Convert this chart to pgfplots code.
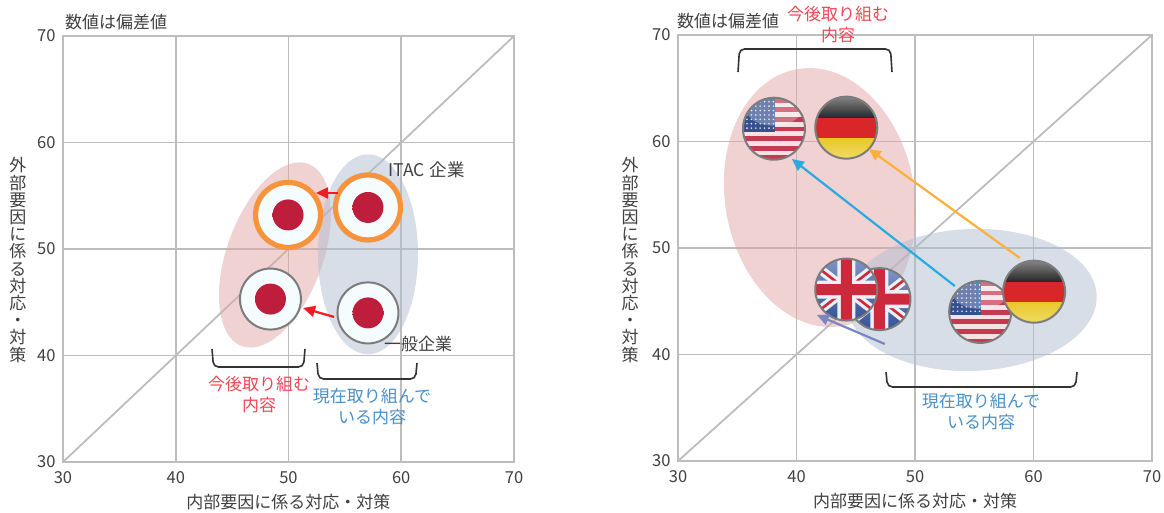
\documentclass[border=0pt]{standalone}
\usepackage{fontspec}
\usepackage{pgfplots}
\pgfplotsset{compat=1.18}
\usetikzlibrary{arrows.meta}
\setmainfont{Noto Sans CJK JP}

\definecolor{gridc}{HTML}{BDBDBD}
\definecolor{textc}{HTML}{404040}
\definecolor{regionpink}{HTML}{E1A5A5}
\definecolor{regionblue}{HTML}{AFBDD1}
\definecolor{labelred}{HTML}{EF4655}
\definecolor{labelblue}{HTML}{4A90C8}
\definecolor{ringc}{HTML}{F7933B}
\definecolor{rimc}{HTML}{7C7C7C}
\definecolor{dotc}{HTML}{BE1E3C}
\definecolor{dotedge}{HTML}{F0B0A8}
\definecolor{usred}{HTML}{C43A50}
\definecolor{usblue}{HTML}{35508F}
\definecolor{ukblue}{HTML}{3A5CA8}
\definecolor{ukred}{HTML}{CC2A3C}
\definecolor{dered}{HTML}{D92628}
\definecolor{degold}{HTML}{E8D030}
\definecolor{arrred}{HTML}{ED1C24}
\definecolor{arrblue}{HTML}{29ABE2}
\definecolor{arryellow}{HTML}{FBB03B}
\definecolor{arrpurple}{HTML}{7A86C4}

\pgfdeclareradialshading{rising}{\pgfpointorigin}{%
  color(0bp)=(dotc); color(26bp)=(dotc); color(36bp)=(dotc!85!black); color(44bp)=(dotedge); color(50bp)=(white)}

% Round badges and shaded regions, set once and placed by the plots below
\newsavebox{\jpflagbox}
\newsavebox{\jpringbox}
\newsavebox{\usflagbox}
\newsavebox{\deflagbox}
\newsavebox{\ukflagbox}
\newsavebox{\regLpink}
\newsavebox{\regLblue}
\newsavebox{\regRpink}
\newsavebox{\regRblue}
\newcommand{\discface}{\fill[white!96!cyan] (0,0) circle (30pt);
  \shade[shading=rising] (0,0) circle (15.5pt);}

\pgfplotsset{
  bubble/.style={
    scale only axis, height=426pt, clip=false, clip marker paths=true,
    xmin=30, xmax=70, ymin=30, ymax=70,
    xtick={30,40,50,60,70}, ytick={30,40,50,60,70},
    grid=major, major grid style={draw=gridc,line width=1.8pt},
    axis line style={draw=gridc,line width=1.8pt},
    major tick length=0pt,
    /pgf/number format/assume math mode=true,
    tick label style={font=\fontsize{16.5}{18}\selectfont,text=textc},
    xticklabel style={yshift=-6pt},
    yticklabel style={xshift=-4pt},
    xlabel={内部要因に係る対応・対策},
    every axis x label/.style={at={(axis description cs:0.5,0)},anchor=center,yshift=-40pt,font=\fontsize{17}{19}\selectfont,text=textc},
    ylabel={外\\部\\要\\因\\に\\係\\る\\対\\応\\・\\対\\策},
  },
  badge/.style={only marks,mark=text,text mark={\usebox{#1}},text mark as node=false,forget plot},
  dir/.style={#1,line width=2.2pt,-{Triangle[length=12pt,width=11pt]},forget plot},
  diag/.style={gridc,line width=1.8pt,forget plot},
}

\begin{document}%
\sbox{\jpflagbox}{\begin{tikzpicture}\discface
  \draw[rimc,line width=2pt] (0,0) circle (30.5pt);\end{tikzpicture}}%
\sbox{\jpringbox}{\begin{tikzpicture}\discface
  \draw[ringc,line width=5.2pt] (0,0) circle (32.5pt);\end{tikzpicture}}%
\sbox{\usflagbox}{\begin{tikzpicture}
  \begin{scope}
    \clip (0,0) circle (31pt);
    \fill[usred!15!white] (-31pt,-31pt) rectangle (31pt,31pt);
    \foreach \s in {0,...,6}{%
      \pgfmathsetmacro{\yy}{31-\s*9.6}
      \fill[usred] (-31pt,\yy pt) rectangle (31pt,\yy pt-4.8pt);}
    \fill[usblue] (-31pt,31pt) rectangle (1pt,-3pt);
    \foreach \i in {0,...,6}{\foreach \j in {0,...,6}{%
      \pgfmathsetmacro{\xx}{-27+\i*4.4}
      \pgfmathsetmacro{\yy}{27-\j*4.4}
      \fill[white!85!usblue] (\xx pt,\yy pt) circle (0.9pt);}}
    \fill[white,opacity=.28] (0,18pt) ellipse [x radius=27pt,y radius=15pt];
  \end{scope}
  \draw[rimc,line width=2pt] (0,0) circle (31pt);\end{tikzpicture}}%
\sbox{\deflagbox}{\begin{tikzpicture}
  \begin{scope}
    \clip (0,0) circle (31pt);
    \shade[top color=black!48,bottom color=black!85] (-31pt,31pt) rectangle (31pt,10pt);
    \fill[dered] (-31pt,10pt) rectangle (31pt,-11pt);
    \shade[top color=degold!90!orange,bottom color=degold!75!white] (-31pt,-11pt) rectangle (31pt,-31pt);
  \end{scope}
  \draw[rimc,line width=2pt] (0,0) circle (31pt);\end{tikzpicture}}%
\sbox{\ukflagbox}{\begin{tikzpicture}
  \begin{scope}
    \clip (0,0) circle (31pt);
    \shade[top color=ukblue!65!white,bottom color=ukblue!90!black] (-31pt,-31pt) rectangle (31pt,31pt);
    \draw[white!90!ukblue,line width=9pt] (-31pt,-24pt) -- (31pt,24pt) (-31pt,24pt) -- (31pt,-24pt);
    \draw[ukred,line width=2.6pt] (-31pt,-24pt) -- (31pt,24pt) (-31pt,24pt) -- (31pt,-24pt);
    \fill[white!90!ukblue] (-31pt,-9pt) rectangle (31pt,9pt) (-9pt,-31pt) rectangle (9pt,31pt);
    \fill[ukred] (-31pt,-5.5pt) rectangle (31pt,5.5pt) (-5.5pt,-31pt) rectangle (5.5pt,31pt);
  \end{scope}
  \draw[rimc,line width=2pt] (0,0) circle (31pt);\end{tikzpicture}}%
\sbox{\regLpink}{\begin{tikzpicture}
  \path[use as bounding box] (-110pt,-110pt) rectangle (110pt,110pt);
  \fill[regionpink,opacity=.5,rotate=70] (0,0) ellipse [x radius=97pt,y radius=48pt];\end{tikzpicture}}%
\sbox{\regLblue}{\begin{tikzpicture}
  \path[use as bounding box] (-110pt,-110pt) rectangle (110pt,110pt);
  \fill[regionblue,opacity=.5] (0,0) ellipse [x radius=50pt,y radius=100pt];\end{tikzpicture}}%
\sbox{\regRpink}{\begin{tikzpicture}
  \path[use as bounding box] (-140pt,-140pt) rectangle (140pt,140pt);
  \fill[regionpink,opacity=.5,rotate=100] (0,0) ellipse [x radius=130.4pt,y radius=94.7pt];\end{tikzpicture}}%
\sbox{\regRblue}{\begin{tikzpicture}
  \path[use as bounding box] (-140pt,-140pt) rectangle (140pt,140pt);
  \fill[regionblue,opacity=.5,rotate=2] (0,0) ellipse [x radius=125pt,y radius=71pt];\end{tikzpicture}}%
\begin{tikzpicture}
\path[use as bounding box] (0,0) rectangle (1164pt,512pt);

% Japanese firms: external against internal scores
\begin{axis}[bubble, width=451pt, at={(63pt,50pt)}, anchor=south west,
  every axis y label/.style={at={(axis description cs:-0.1,0.474)},anchor=center,align=center,font=\fontsize{17}{17.2}\selectfont,text=textc}]
  \addplot[diag] coordinates {(30,30) (70,70)};
  \addplot[badge=\regLpink] coordinates {(48.8,49.44)};
  \addplot[badge=\regLblue] coordinates {(57.05,49.5)};
  \addplot[badge=\jpringbox] coordinates {(49.96,53.2)};
  \addplot[badge=\jpringbox] coordinates {(57.05,53.9)};
  \addplot[badge=\jpflagbox] coordinates {(48.4,45.3)};
  \addplot[badge=\jpflagbox] coordinates {(57.05,44.0)};
  \addplot[dir=arrred] coordinates {(54.39,55.26) (52.44,55.26)};
  \addplot[dir=arrred] coordinates {(54.04,43.62) (51.29,44.46)};
\end{axis}

% Country comparison
\begin{axis}[bubble, width=474pt, at={(678pt,51pt)}, anchor=south west,
  every axis y label/.style={at={(axis description cs:-0.101,0.472)},anchor=center,align=center,font=\fontsize{17}{17.2}\selectfont,text=textc}]
  \addplot[diag] coordinates {(30,30) (70,70)};
  \addplot[badge=\regRpink] coordinates {(41.97,54.74)};
  \addplot[badge=\regRblue] coordinates {(54.79,45.12)};
  \addplot[badge=\usflagbox] coordinates {(38.1,61.2)};
  \addplot[badge=\deflagbox] coordinates {(44.2,61.3)};
  \addplot[badge=\ukflagbox] coordinates {(47.0,45.2)};
  \addplot[badge=\ukflagbox] coordinates {(44.2,46.1)};
  \addplot[badge=\usflagbox] coordinates {(55.5,44.0)};
  \addplot[badge=\deflagbox] coordinates {(60.05,45.9)};
  \addplot[dir=arrblue] coordinates {(53.36,46.43) (39.61,58.36)};
  \addplot[dir=arryellow] coordinates {(58.84,49.06) (46.10,59.30)};
  \addplot[dir=arrpurple] coordinates {(47.45,40.99) (41.72,43.71)};
\end{axis}

% Annotations, in a frame measured down from the top left corner
\begin{scope}[x=1pt,y=-1pt,yshift=512pt,
  txt/.style={font=\fontsize{17}{21}\selectfont,text=textc,align=center,inner sep=0pt},
  brk/.style={draw=black!80,line width=1.6pt,rounded corners=5pt}]
  \node[txt,anchor=west] at (65,22) {数値は偏差値};
  \node[txt,anchor=west] at (677,21) {数値は偏差値};
  \node[txt,font=\fontsize{17.5}{21}\selectfont] at (426.5,170) {ITAC\hspace{5pt}企業};
  \node[txt] at (418,344) {一般企業};
  \node[txt,text=labelred] at (259,394.5) {今後取り組む\\内容};
  \node[txt,text=labelblue] at (372,406.5) {現在取り組んで\\いる内容};
  \node[txt,text=labelred] at (838,25) {今後取り組む\\内容};
  \node[txt,text=labelblue] at (981,411.5) {現在取り組んで\\いる内容};
  \draw[brk] (212,349) -- (213.5,367) -- (303.5,367) -- (305,349);
  \draw[brk] (317,363) -- (318.5,379) -- (415.5,379) -- (417,363);
  \draw[brk] (738,72) -- (739.5,49) -- (890.5,49) -- (892,72);
  \draw[brk] (886,372) -- (887.5,387) -- (1075.5,387) -- (1077,372);
\end{scope}
\end{tikzpicture}%
\end{document}
